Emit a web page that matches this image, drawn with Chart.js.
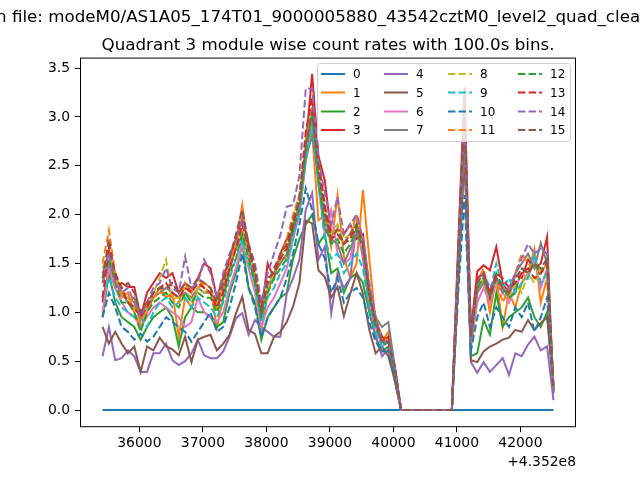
<!DOCTYPE html>
<html>
<head>
<meta charset="utf-8">
<script src="https://cdn.jsdelivr.net/npm/chart.js@4.4.1/dist/chart.umd.min.js"></script>
<style>
  html, body { margin: 0; padding: 0; background: #fff; }
  #wrap { width: 640px; height: 480px; }
</style>
</head>
<body>
<div id="wrap"><canvas id="rates" width="640" height="480"></canvas></div>
<script>
const fileTitle = 'Open file: modeM0/AS1A05_174T01_9000005880_43542cztM0_level2_quad_clean.evt';
const plotTitle = 'Quadrant 3 module wise count rates with 100.0s bins.';
const timeOffset = 435200000;
const offsetLabel = '+4.352e8';

// bin times (s)
const times = [
  435235420, 435235520, 435235620, 435235720, 435235820, 435235920, 435236020, 435236120, 435236220, 435236320,
  435236420, 435236520, 435236620, 435236720, 435236820, 435236920, 435237020, 435237120, 435237220, 435237320,
  435237420, 435237520, 435237620, 435237720, 435237820, 435237920, 435238020, 435238120, 435238220, 435238320,
  435238420, 435238520, 435238620, 435238720, 435238820, 435238920, 435239020, 435239120, 435239220, 435239320,
  435239420, 435239520, 435239620, 435239720, 435239820, 435239920, 435240020, 435240120, 435240220, 435240320,
  435240420, 435240520, 435240620, 435240720, 435240820, 435240920, 435241020, 435241120, 435241220, 435241320,
  435241420, 435241520, 435241620, 435241720, 435241820, 435241920, 435242020, 435242120, 435242220, 435242320,
  435242420, 435242520
];

const xTicks = [435236000, 435237000, 435238000, 435239000, 435240000, 435241000, 435242000];
const yTicks = [0, 0.5, 1.0, 1.5, 2.0, 2.5, 3.0, 3.5];

const mod0 = [
  0,0,0,0,0,0,0,0,0,0, 0,0,0,0,0,0,0,0,0,0, 0,0,0,0,0,0,0,0,0,0,
  0,0,0,0,0,0,0,0,0,0, 0,0,0,0,0,0,0,0,0,0, 0,0,0,0,0,0,0,0,0,0,
  0,0,0,0,0,0,0,0,0,0, 0,0
];
const mod1 = [
  1.30,1.65,1.35,1.15,1.20,1.00,0.85,1.00,1.15,1.25, 1.15,1.20,0.75,1.15,1.05,1.25,1.30,1.25,0.84,1.15,
  1.45,1.70,2.10,1.60,1.30,0.80,1.20,1.40,1.55,1.55, 1.85,2.00,2.55,2.85,1.94,2.00,1.67,2.20,1.57,1.35,
  1.50,2.25,1.55,0.90,0.70,0.80,0.45, 0,0,0,0,0,0,0,0,0,
  1.55,3.05,0.65,1.20,1.35,1.00,1.35,0.85,1.20,1.05,1.30,1.40,1.65,1.10,1.35,0.25
];
const mod2 = [
  0.95,1.40,1.10,0.95,0.90,0.85,0.72,0.85,0.95,1.00, 1.05,0.95,0.65,0.95,1.05,1.00,1.00,0.95,0.85,0.90,
  1.20,1.40,1.70,1.25,1.10,0.72,0.95,1.05,1.15,1.20, 1.55,1.75,1.90,2.00,1.70,1.80,1.40,1.45,1.20,1.35,
  1.40,1.30,1.00,0.75,0.60,0.65,0.35, 0,0,0,0,0,0,0,0,0,
  1.40,2.70,0.55,0.58,0.92,0.77,1.20,0.85,0.95,1.00,1.05,1.15,0.95,0.85,1.00,0.20
];
const mod3 = [
  1.10,1.45,1.25,1.30,1.26,1.26,0.95,1.20,1.30,1.40, 1.35,1.40,1.20,1.30,1.20,1.35,1.50,1.45,1.15,1.35,
  1.55,1.75,1.95,1.70,1.30,1.00,1.50,1.35,1.60,1.75, 1.80,2.05,2.70,3.44,2.60,2.35,1.80,1.85,1.80,1.90,
  1.75,1.80,1.25,0.95,0.70,0.75,0.40, 0,0,0,0,0,0,0,0,0,
  1.70,3.30,0.80,1.42,1.48,1.43,1.67,1.30,1.19,1.38,1.35,1.54,1.45,1.50,1.77,0.17
];
const mod4 = [
  0.55,0.85,0.51,0.53,0.61,0.55,0.39,0.39,0.58,0.58, 0.68,0.51,0.46,0.50,0.58,0.72,0.56,0.53,0.53,0.60,
  0.75,0.94,0.99,0.77,0.92,0.85,0.80,0.75,0.75,1.19, 1.35,1.54,2.05,2.22,1.54,1.67,0.99,1.40,1.25,1.35,
  1.90,1.55,1.05,0.75,0.55,0.62,0.30, 0,0,0,0,0,0,0,0,0,
  1.30,2.60,0.49,0.38,0.49,0.39,0.46,0.53,0.36,0.58,0.55,0.67,0.75,0.61,0.65,0.10
];
const mod5 = [
  0.85,0.68,0.80,0.68,0.58,0.65,0.39,0.65,0.61,0.74, 0.65,0.62,0.56,0.75,0.49,0.72,0.75,0.77,0.61,0.68,
  0.77,0.99,1.16,0.82,0.78,0.58,0.58,0.75,0.80,0.90, 1.06,1.30,1.94,1.91,1.43,1.36,1.15,1.26,0.96,1.19,
  1.40,1.19,0.82,0.58,0.65,0.55,0.31, 0,0,0,0,0,0,0,0,0,
  1.30,2.70,0.51,0.49,0.60,0.65,0.68,0.72,0.74,0.82,0.80,0.92,0.82,0.89,0.95,0.24
];
const mod6 = [
  1.00,1.45,1.25,1.10,1.00,0.95,0.85,0.95,1.05,1.10, 1.05,1.00,0.95,0.85,0.90,1.15,1.00,0.95,0.90,1.00,
  1.25,1.45,1.70,1.45,1.20,0.85,1.05,1.15,1.30,1.45, 1.75,2.00,2.55,2.95,2.30,1.80,2.05,1.60,1.50,1.55,
  1.85,1.60,1.10,0.85,0.65,0.70,0.40, 0,0,0,0,0,0,0,0,0,
  1.50,2.95,0.65,1.10,1.25,1.10,1.30,1.20,1.10,1.25,1.40,1.35,1.55,1.25,1.45,0.20
];
const mod7 = [
  1.30,1.50,1.35,1.20,1.10,1.15,0.95,1.05,1.15,1.20, 1.25,1.20,1.15,1.20,1.15,1.25,1.20,1.20,1.05,1.25,
  1.45,1.65,1.80,1.60,1.35,1.00,1.25,1.40,1.50,1.60, 1.90,2.10,2.60,2.80,2.40,1.85,1.75,1.70,1.50,1.65,
  1.80,1.70,1.25,0.95,0.85,0.90,0.45, 0,0,0,0,0,0,0,0,0,
  1.45,2.85,0.70,1.20,1.30,1.20,1.35,1.25,1.15,1.40,1.50,1.60,1.45,1.71,1.50,0.25
];
const mod8 = [
  1.45,1.60,1.35,1.20,1.15,1.05,0.90,1.05,1.20,1.35, 1.54,1.15,1.15,1.25,1.10,1.25,1.20,1.25,1.10,1.30,
  1.50,1.70,1.85,1.60,1.40,1.00,1.25,1.40,1.55,1.70, 1.95,2.20,2.80,3.00,2.40,2.05,1.80,1.90,1.75,1.80,
  1.95,1.70,1.20,0.90,0.75,0.70,0.45, 0,0,0,0,0,0,0,0,0,
  1.50,3.00,0.65,1.25,1.35,1.20,1.30,1.25,1.15,1.30,1.20,1.40,1.30,1.45,1.35,0.22
];
const mod9 = [
  1.15,1.35,1.15,1.05,1.00,0.95,0.95,0.85,1.00,1.10, 1.15,1.05,1.10,1.15,1.05,1.15,1.10,1.05,0.95,1.10,
  1.35,1.55,1.75,1.50,1.30,0.90,1.15,1.25,1.40,1.50, 1.75,2.05,2.55,2.95,2.30,1.75,1.55,1.60,1.40,1.50,
  1.60,1.45,1.05,0.80,0.65,0.70,0.40, 0,0,0,0,0,0,0,0,0,
  1.50,2.90,0.75,1.30,1.35,1.20,1.50,1.25,1.35,1.20,1.30,1.35,1.60,1.30,1.40,0.20
];
const mod10 = [
  0.95,1.20,1.05,0.85,0.80,0.72,0.78,0.70,0.75,0.85, 0.95,0.90,0.85,0.80,0.70,0.80,0.90,1.00,0.80,0.85,
  1.05,1.30,1.60,1.25,1.05,0.75,0.95,1.05,1.15,1.35, 1.60,1.90,2.27,2.05,1.70,1.55,1.20,1.35,1.10,1.20,
  1.25,1.15,0.90,0.70,0.60,0.60,0.35, 0,0,0,0,0,0,0,0,0,
  1.20,2.20,0.60,0.95,1.10,0.85,1.05,0.95,0.85,1.05,0.95,1.10,0.80,0.95,1.15,0.20
];
const mod11 = [
  1.50,1.84,1.40,1.20,1.15,1.10,0.90,1.05,1.15,1.20, 1.20,1.15,1.10,1.30,1.20,1.35,1.25,1.20,1.05,1.25,
  1.50,1.70,1.95,1.65,1.40,1.00,1.30,1.45,1.55,1.75, 2.00,2.20,2.75,3.10,2.50,2.05,1.75,1.85,1.70,1.80,
  2.00,1.75,1.25,0.95,0.75,0.70,0.45, 0,0,0,0,0,0,0,0,0,
  1.55,3.05,0.70,1.30,1.45,1.15,1.35,1.10,1.25,1.40,1.60,1.50,1.45,1.40,1.50,0.22
];
const mod12 = [
  1.35,1.55,1.30,1.10,1.10,1.00,0.80,1.00,1.10,1.15, 1.20,1.10,1.05,1.20,1.10,1.20,1.15,1.15,1.00,1.15,
  1.40,1.55,1.80,1.55,1.30,0.95,1.20,1.35,1.45,1.55, 1.85,2.05,2.65,3.05,2.35,1.90,1.70,1.75,1.60,1.70,
  1.85,1.65,1.15,0.85,0.70,0.65,0.40, 0,0,0,0,0,0,0,0,0,
  1.45,2.95,0.70,1.25,1.35,1.15,1.40,1.25,1.15,1.20,1.45,1.40,1.50,1.40,1.55,0.22
];
const mod13 = [
  1.15,1.65,1.40,1.25,1.10,1.05,0.95,1.05,1.20,1.25, 1.30,1.20,1.15,1.25,1.20,1.30,1.25,1.20,1.05,1.20,
  1.45,1.65,1.90,1.65,1.40,1.05,1.35,1.40,1.55,1.65, 1.90,2.15,2.85,3.20,2.55,2.10,1.75,1.80,1.70,1.75,
  1.90,1.70,1.20,0.90,0.75,0.70,0.45, 0,0,0,0,0,0,0,0,0,
  1.60,3.15,0.75,1.35,1.40,1.20,1.40,1.35,1.25,1.30,1.40,1.45,1.35,1.40,1.50,0.22
];
const mod14 = [
  1.40,1.60,1.30,1.20,1.25,1.10,0.95,1.10,1.25,1.30, 1.45,1.25,1.20,1.57,1.25,1.30,1.54,1.40,1.15,1.40,
  1.60,1.75,1.95,1.70,1.50,1.10,1.40,1.60,1.79,2.08, 2.10,2.40,3.29,3.29,2.56,2.22,1.90,2.18,1.80,1.90,
  2.00,1.75,1.30,0.95,0.70,0.70,0.45, 0,0,0,0,0,0,0,0,0,
  1.55,3.05,0.70,1.30,1.40,1.25,1.35,1.20,1.25,1.40,1.55,1.70,1.60,1.65,1.60,0.20
];
const mod15 = [
  1.35,1.75,1.35,1.25,1.30,1.20,1.00,1.10,1.20,1.25, 1.25,1.30,1.20,1.30,1.25,1.35,1.30,1.25,1.10,1.30,
  1.55,1.80,2.05,1.70,1.45,1.00,1.30,1.45,1.60,1.70, 1.95,2.15,2.70,3.05,2.45,2.00,1.75,1.85,1.70,1.80,
  1.90,1.70,1.20,0.90,0.70,0.70,0.45, 0,0,0,0,0,0,0,0,0,
  1.55,3.00,0.75,1.30,1.40,1.15,1.35,1.25,1.20,1.35,1.45,1.40,1.50,1.45,1.55,0.22
];

const modules = [mod0, mod1, mod2, mod3, mod4, mod5, mod6, mod7,
                 mod8, mod9, mod10, mod11, mod12, mod13, mod14, mod15];
const moduleLabels = ['0','1','2','3','4','5','6','7','8','9','10','11','12','13','14','15'];

const colors = ['#1f77b4', '#ff7f0e', '#2ca02c', '#d62728', '#9467bd', '#8c564b', '#e377c2', '#7f7f7f',
                '#bcbd22', '#17becf', '#1f77b4', '#ff7f0e', '#2ca02c', '#d62728', '#9467bd', '#8c564b'];
const dash = [7.4, 3.2];
const FONT = "'DejaVu Sans', sans-serif";

const datasets = modules.map((vals, k) => ({
  label: moduleLabels[k],
  data: times.map((t, i) => ({ x: t, y: vals[i] })),
  borderColor: colors[k],
  backgroundColor: colors[k],
  borderWidth: 2,
  borderDash: k >= 8 ? dash : [],
  pointRadius: 0,
  tension: 0,
  fill: false,
  order: 15 - k
}));

// frame, titles, offset text and the 4-column legend
const decorations = {
  id: 'decorations',
  afterDraw(chart) {
    const ctx = chart.ctx;
    const a = chart.chartArea;
    ctx.save();
    ctx.strokeStyle = '#000';
    ctx.lineWidth = 1;
    ctx.strokeRect(a.left + 0.5, a.top + 0.5, a.right - a.left - 1, a.bottom - a.top - 1);

    ctx.fillStyle = '#000';
    ctx.font = '16.7px ' + FONT;
    ctx.textBaseline = 'alphabetic';
    ctx.textAlign = 'left';
    const pre = ctx.measureText('Ope').width;
    ctx.fillText(fileTitle, -4 - pre, 22);
    ctx.textAlign = 'center';
    ctx.fillText(plotTitle, (a.left + a.right) / 2, 50);

    ctx.font = '13.9px ' + FONT;
    ctx.textAlign = 'right';
    ctx.fillText(offsetLabel, a.right, 466);

    // legend
    const boxL = 317.5, boxT = 63.5, boxR = 570.5, boxB = 141.5;
    ctx.beginPath();
    ctx.roundRect(boxL, boxT, boxR - boxL, boxB - boxT, 3);
    ctx.fillStyle = 'rgba(255,255,255,0.8)';
    ctx.fill();
    ctx.strokeStyle = '#cccccc';
    ctx.lineWidth = 1;
    ctx.stroke();

    const colX = [321, 384, 448, 518];
    const rowY = [74, 92.5, 111.5, 130];
    ctx.font = '12px ' + FONT;
    ctx.textAlign = 'left';
    ctx.textBaseline = 'middle';
    chart.data.datasets.forEach((ds, k) => {
      const c = Math.floor(k / 4), r = k % 4;
      const x = colX[c], y = rowY[r];
      ctx.beginPath();
      ctx.setLineDash(ds.borderDash);
      ctx.strokeStyle = ds.borderColor;
      ctx.lineWidth = 2;
      ctx.moveTo(x, y);
      ctx.lineTo(x + 24, y);
      ctx.stroke();
      ctx.setLineDash([]);
      ctx.fillStyle = '#000';
      ctx.fillText(ds.label, x + 32, y + 1);
    });
    ctx.restore();
  }
};

new Chart(document.getElementById('rates'), {
  type: 'line',
  data: { datasets },
  options: {
    responsive: false,
    animation: false,
    devicePixelRatio: 1,
    layout: { padding: { top: 57.6, right: 64, bottom: 0, left: 0 } },
    plugins: { legend: { display: false }, tooltip: { enabled: false }, title: { display: false } },
    scales: {
      x: {
        type: 'linear',
        min: 435235065,
        max: 435242875,
        afterBuildTicks: s => { s.ticks = xTicks.map(v => ({ value: v })); },
        afterFit: s => { s.height = 52.8; },
        ticks: {
          callback: v => String(v - timeOffset),
          color: '#000',
          font: { family: FONT, size: 13.9 },
          padding: 3,
          maxRotation: 0,
          autoSkip: false
        },
        grid: { drawOnChartArea: false, drawTicks: true, tickLength: 5, color: '#000' },
        border: { display: false }
      },
      y: {
        type: 'linear',
        min: -0.176,
        max: 3.607,
        afterBuildTicks: s => { s.ticks = yTicks.map(v => ({ value: v })); },
        afterFit: s => { s.width = 80; },
        ticks: {
          callback: v => v.toFixed(1),
          color: '#000',
          font: { family: FONT, size: 13.9 },
          padding: 5
        },
        grid: { drawOnChartArea: false, drawTicks: true, tickLength: 5, color: '#000' },
        border: { display: false }
      }
    }
  },
  plugins: [decorations]
});
</script>
</body>
</html>
